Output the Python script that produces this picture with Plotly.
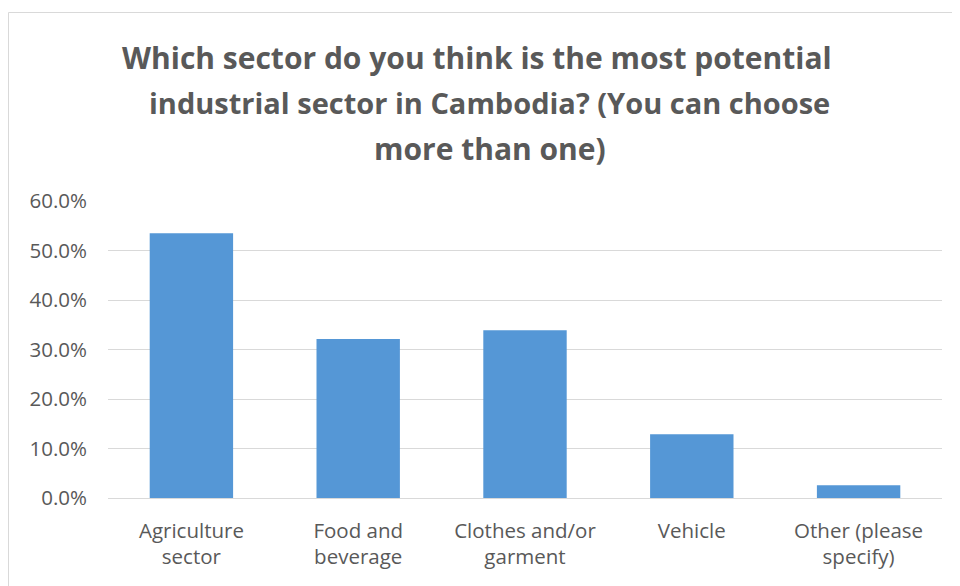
import plotly.graph_objects as go

categories = ["Agriculture<br>sector", "Food and<br>beverage", "Clothes and/or<br>garment", "Vehicle", "Other (please<br>specify)"]
values = [0.535, 0.321, 0.339, 0.129, 0.026]
y_ticks = [0, 0.1, 0.2, 0.3, 0.4, 0.5, 0.6]
y_tick_labels = ["0.0%", "10.0%", "20.0%", "30.0%", "40.0%", "50.0%", "60.0%"]
title_lines = ["Which sector do you think is the most potential",
               "industrial sector in Cambodia? (You can choose",
               "more than one)"]

# page body has an 8px margin; figure coords = screen - 8
OFF = 8
W, H = 952, 578
L, R, T, B = 100, 18, 193, 88
pw, ph = W - L - R, H - T - B

def px_x(sx):
    return (sx - OFF - L) / pw

def px_y(sy):
    return (H - B - (sy - OFF)) / ph

fig = go.Figure()
fig.add_trace(go.Bar(
    x=categories, y=values,
    marker=dict(color="#5597d6", line=dict(width=0)),
    hoverinfo="skip",
))

grey = "#595959"
tick_font = dict(family="Open Sans", size=20.5, color=grey)
title_baselines = [68.5, 113.5, 160]
title_centers = [477, 489, 490]
title_sizes = [30, 29, 30]
annotations = []
for line, base, cx, sz in zip(title_lines, title_baselines, title_centers, title_sizes):
    annotations.append(dict(
        text="<b>" + line + "</b>", xref="paper", yref="paper",
        x=px_x(cx), y=px_y(base - 11), xanchor="center", yanchor="middle",
        showarrow=False, align="center",
        font=dict(family="Open Sans", size=sz, color=grey)))

fig.update_layout(
    width=W, height=H,
    margin=dict(l=L, r=R, t=T, b=B, autoexpand=False),
    paper_bgcolor="white", plot_bgcolor="white",
    bargap=0.5,
    showlegend=False,
    font=dict(family="Open Sans", color=grey, size=20),
    xaxis=dict(showgrid=False, showline=True, linecolor="#d9d9d9", linewidth=1,
               ticks="", tickfont=tick_font, ticklabelstandoff=14, automargin=False),
    yaxis=dict(range=[0, 0.6], tickvals=y_ticks, ticktext=y_tick_labels,
               showgrid=True, gridcolor="#d9d9d9", gridwidth=1, zeroline=False,
               showline=False, ticks="", tickfont=tick_font,
               ticklabelstandoff=20, automargin=False),
    shapes=[dict(type="rect", xref="paper", yref="paper",
                 x0=px_x(8.5), x1=px_x(1000), y0=px_y(700), y1=px_y(12.5),
                 line=dict(color="#d9d9d9", width=1), fillcolor="rgba(0,0,0,0)",
                 layer="below")],
    annotations=annotations,
)

fig.write_html("out.html")
